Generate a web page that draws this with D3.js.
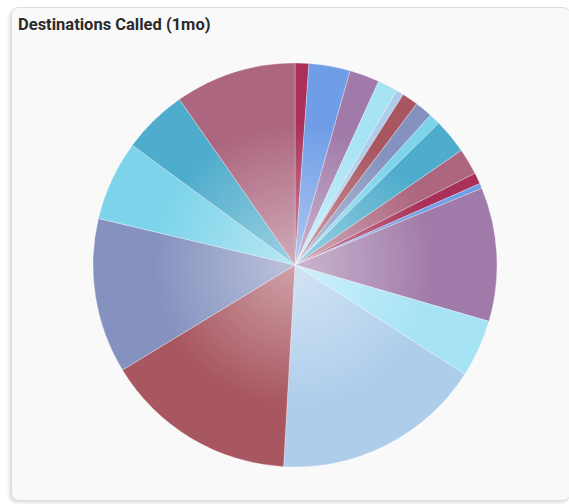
<!DOCTYPE html>
<html>
<head>
<meta charset="utf-8">
<script src="https://cdn.jsdelivr.net/npm/d3@7"></script>
<style>
  body { margin: 0; background: #ffffff; font-family: Roboto, "Noto Sans", sans-serif; }
  #card {
    position: absolute; left: 11px; top: 7px; width: 560px; height: 494px;
    background: #f9f9f9; border: 1px solid #dcdcdc; border-radius: 8px;
    box-shadow: -2px 2px 3px rgba(0,0,0,0.12);
    box-sizing: border-box;
  }
</style>
</head>
<body>
<div id="card"></div>
<svg id="chart" width="569" height="504" style="position:absolute;left:0;top:0"></svg>
<script>
// destinations, call counts (1 month)
const destinations = ["D01","D02","D03","D04","D05","D06","D07","D08","D09","D10",
                      "D11","D12","D13","D14","D15","D16","D17","D18","D19","D20"];
const calls = [11, 33, 24, 16, 6, 13, 14, 9, 28, 21,
               9, 4, 107, 46, 168, 154, 124, 64, 52, 97];
const palette = ["#a93159", "#6f9de6", "#a07aa8", "#a6e3f5", "#aecdeb",
                 "#a85660", "#8592bf", "#7dd4ea", "#4eaccc", "#ac6680"];
const title = "Destinations Called (1mo)";

const CX = 295, CY = 265, R = 202;

const svg = d3.select("#chart");

svg.append("text")
    .attr("x", 18)
    .attr("y", 30)
    .attr("font-size", 16.5)
    .attr("font-weight", 700)
    .attr("fill", "#2b2b2b")
    .text(title);

const defs = svg.append("defs");
// radial gradient per colour, light in the middle, full colour at the rim
palette.forEach((c, i) => {
    const g = defs.append("radialGradient")
        .attr("id", "grad" + i)
        .attr("gradientUnits", "userSpaceOnUse")
        .attr("cx", 0).attr("cy", 0).attr("r", R);
    g.append("stop").attr("offset", 0).attr("stop-color", d3.interpolateRgb(c, "#ffffff")(0.45));
    g.append("stop").attr("offset", 0.7).attr("stop-color", c);
    g.append("stop").attr("offset", 1).attr("stop-color", c);
});

const pie = d3.pie().sort(null).value(d => d);
const arc = d3.arc().innerRadius(0).outerRadius(R);

svg.append("g")
    .attr("transform", `translate(${CX},${CY})`)
    .selectAll("path")
    .data(pie(calls))
    .join("path")
    .attr("d", arc)
    .attr("fill", (d, i) => `url(#grad${i % palette.length})`)
    .attr("stroke", "#ffffff")
    .attr("stroke-width", 0.3)
    .append("title")
    .text((d, i) => `${destinations[i]}: ${d.data}`);
</script>
</body>
</html>
